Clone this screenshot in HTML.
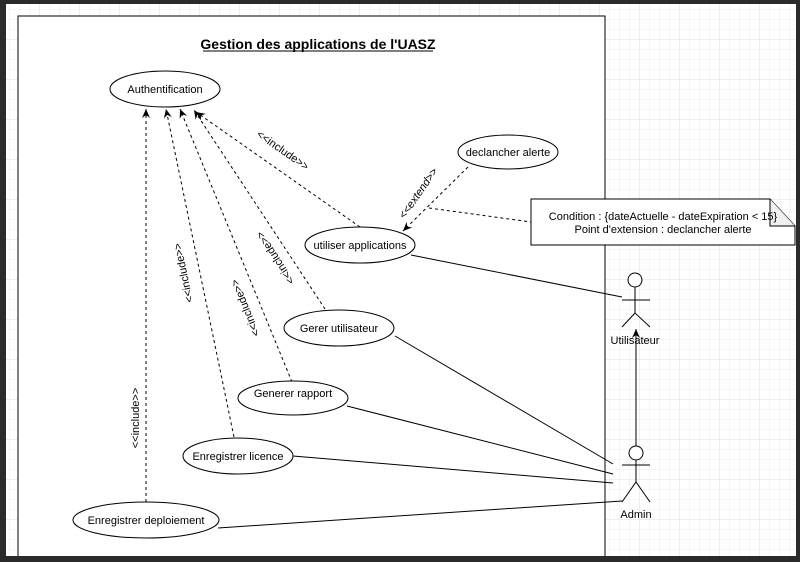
<!DOCTYPE html>
<html><head><meta charset="utf-8"><style>
html,body{margin:0;padding:0;background:#2b2b2b;}
svg{display:block;font-family:"Liberation Sans",Arial,sans-serif;}
</style></head><body>
<svg width="800" height="562" viewBox="0 0 800 562" xmlns="http://www.w3.org/2000/svg">
<defs>
<pattern id="g1" width="10" height="10" patternUnits="userSpaceOnUse"><path d="M10 0V10M0 10H10" fill="none" stroke="#ececec" stroke-width="1"/></pattern>
<pattern id="g2" width="40" height="40" patternUnits="userSpaceOnUse"><rect width="40" height="40" fill="url(#g1)"/><path d="M40 0V40M0 40H40" fill="none" stroke="#dedede" stroke-width="1"/></pattern>
<marker id="fa" markerWidth="10" markerHeight="10" refX="9" refY="5" orient="auto" markerUnits="userSpaceOnUse"><path d="M0 1L9 5L0 9L3 5Z" fill="#000"/></marker>
</defs>
<rect x="6" y="4" width="790" height="552" fill="#fff"/>
<rect x="6" y="4" width="790" height="552" fill="url(#g2)"/>
<path d="M18 556V16H605V556" fill="#fff" stroke="#000" stroke-width="1"/>
<text x="318" y="49" font-size="14" font-weight="bold" text-anchor="middle">Gestion des applications de l'UASZ</text>
<line x1="203" y1="51" x2="433" y2="51" stroke="#000" stroke-width="1"/>

<g fill="none" stroke="#000" stroke-width="1" stroke-dasharray="3,3">
<line x1="146" y1="502" x2="146" y2="109" marker-end="url(#fa)"/>
<line x1="234" y1="437" x2="166" y2="109" marker-end="url(#fa)"/>
<line x1="292" y1="382" x2="180" y2="109" marker-end="url(#fa)"/>
<line x1="325" y1="309" x2="194" y2="110" marker-end="url(#fa)"/>
<line x1="360" y1="227" x2="196" y2="112" marker-end="url(#fa)"/>
<line x1="468" y1="167" x2="403" y2="231" marker-end="url(#fa)"/>
<line x1="429" y1="208" x2="531" y2="222"/>
</g>
<g fill="none" stroke="#000" stroke-width="1">
<line x1="411" y1="255" x2="622" y2="297"/>
<line x1="395" y1="336" x2="613" y2="464"/>
<line x1="347" y1="406" x2="613" y2="474"/>
<line x1="293" y1="456" x2="613" y2="483"/>
<line x1="218" y1="528" x2="622" y2="501"/>
<line x1="636" y1="446" x2="636" y2="329" marker-end="url(#fa)"/>
</g>
<g fill="#fff" stroke="#000" stroke-width="1">
<ellipse cx="165" cy="89" rx="55" ry="18"/>
<ellipse cx="508" cy="152" rx="50" ry="17"/>
<ellipse cx="360" cy="245" rx="55" ry="18"/>
<ellipse cx="339" cy="328" rx="55" ry="18"/>
<ellipse cx="293" cy="398" rx="55" ry="17"/>
<ellipse cx="238" cy="456" rx="55" ry="18"/>
<ellipse cx="146" cy="520" rx="73" ry="18"/>
<path d="M531 199H770L795 226V245H531Z"/>
<path d="M770 199V226H795" fill="#f0f0f0"/>
</g>
<g font-size="11" text-anchor="middle" fill="#000">
<text x="165" y="93">Authentification</text>
<text x="508" y="156">declancher alerte</text>
<text x="360" y="249">utiliser applications</text>
<text x="339" y="332">Gerer utilisateur</text>
<text x="293" y="397">Generer rapport</text>
<text x="238" y="460">Enregistrer licence</text>
<text x="146" y="524">Enregistrer deploiement</text>
<text x="663" y="220">Condition : {dateActuelle - dateExpiration &lt; 15}</text>
<text x="663" y="233">Point d'extension : declancher alerte</text>
<text x="635" y="344">Utilisateur</text>
<text x="636" y="518">Admin</text>
<text transform="translate(283,150) rotate(35)" y="4">&lt;&lt;include&gt;&gt;</text>
<text transform="translate(418,193) rotate(-55)" y="4" font-style="italic">&lt;&lt;extend&gt;&gt;</text>
<text transform="translate(135,418) rotate(-90)" y="4">&lt;&lt;include&gt;&gt;</text>
<text transform="translate(183,273) rotate(-102)" y="4">&lt;&lt;include&gt;&gt;</text>
<text transform="translate(245,308) rotate(-112)" y="4">&lt;&lt;include&gt;&gt;</text>
<text transform="translate(275,258) rotate(-123)" y="4">&lt;&lt;include&gt;&gt;</text>
</g>
<g fill="none" stroke="#000" stroke-width="1">
<circle cx="635" cy="280" r="7" fill="#fff"/>
<path d="M635 287V313M622 300H650M622 327L635 313L650 327"/>
<circle cx="636" cy="453" r="7" fill="#fff"/>
<path d="M636 460V482M622 465H650M622 502L636 482L650 502"/>
</g>
</svg>
</body></html>
